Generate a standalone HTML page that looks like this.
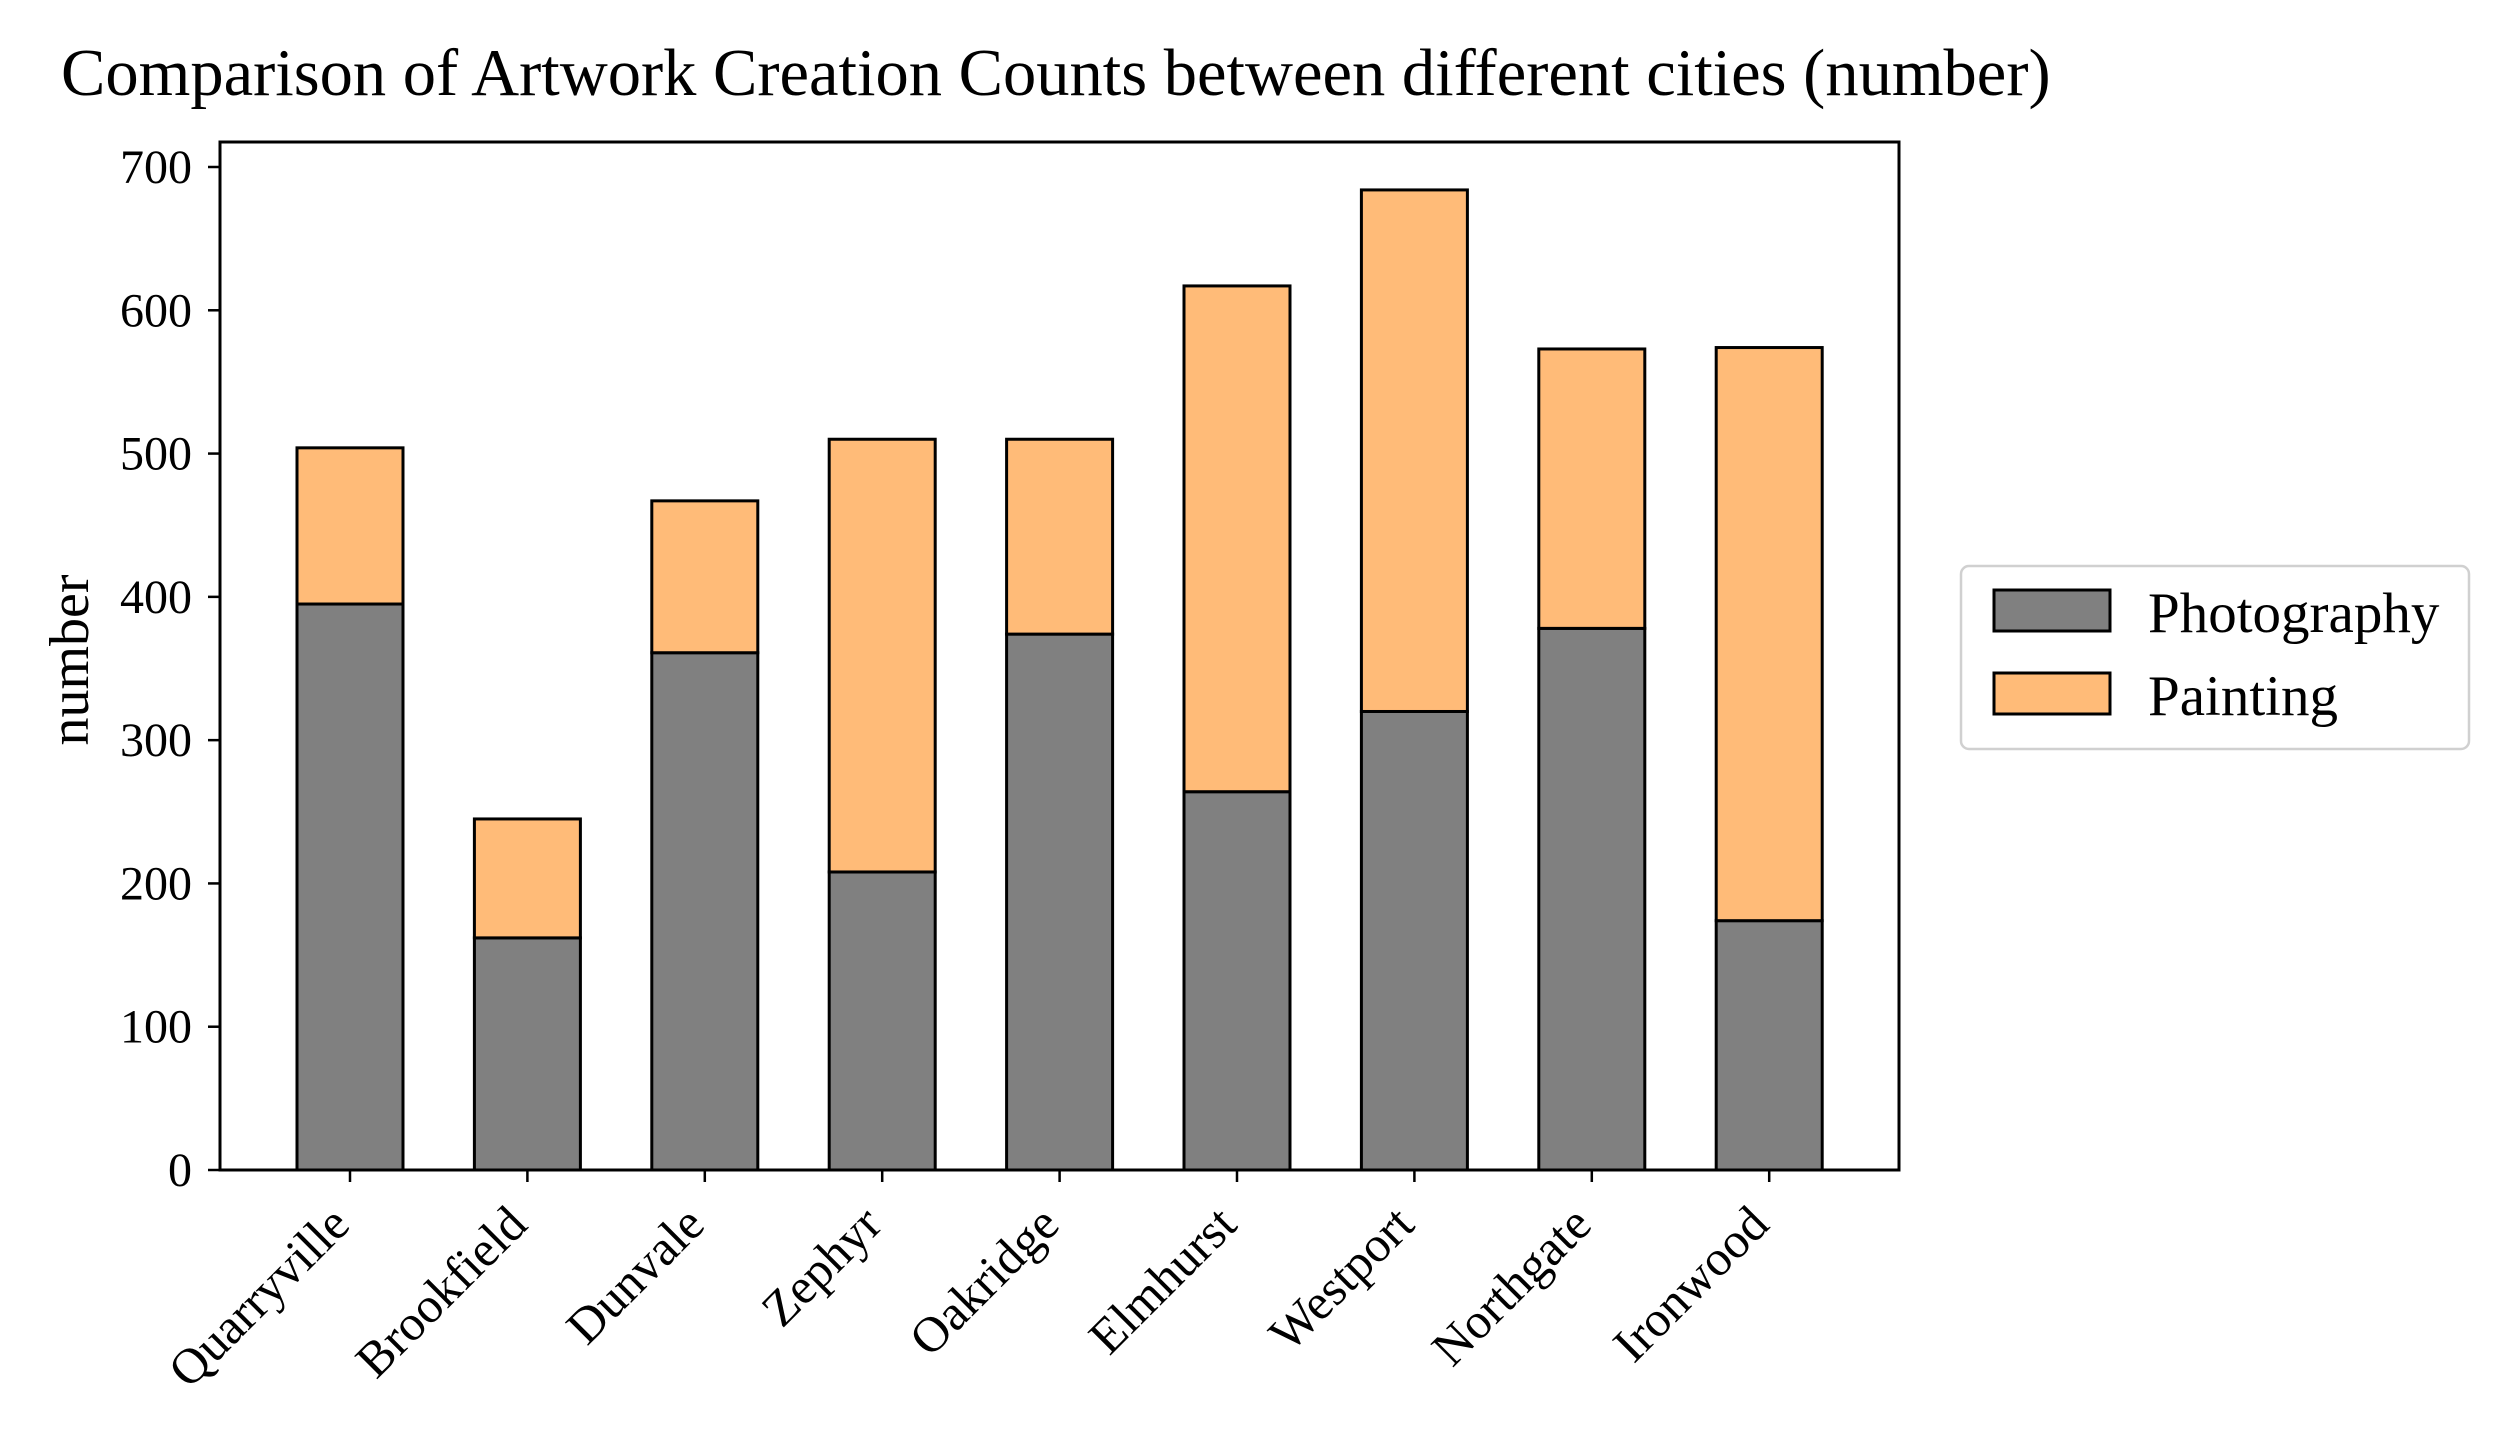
<!DOCTYPE html>
<html><head><meta charset="utf-8"><style>
html,body{margin:0;padding:0;background:#fff;}
svg{display:block;font-family:"Liberation Serif",serif;}
</style></head><body>
<svg id="chart" width="2520" height="1440" viewBox="0 0 2520 1440" xmlns="http://www.w3.org/2000/svg">
<text x="61" y="95" font-size="66.5" fill="#000">Comparison of Artwork Creation Counts between different cities (number)</text>
<text transform="translate(88,660) rotate(-90)" text-anchor="middle" font-size="56">number</text>
<g id="bars"></g>
<g id="axes"></g>
<g>
<rect x="1961" y="566" width="508" height="183" rx="8" fill="#fff" stroke="#d0d0d0" stroke-width="2.5"/>
<rect x="1994" y="590" width="116" height="41" fill="#808080" stroke="#000" stroke-width="3"/>
<text x="2148" y="632" font-size="57">Photography</text>
<rect x="1994" y="673" width="116" height="41" fill="#ffbb78" stroke="#000" stroke-width="3"/>
<text x="2148" y="715" font-size="57">Painting</text>
</g>
</svg>
<script>
const categories = ["Quarryville","Brookfield","Dunvale","Zephyr","Oakridge","Elmhurst","Westport","Northgate","Ironwood"];
const photography = [395,162,361,208,374,264,320,378,174];
const painting = [109,83,106,302,136,353,364,195,400];
const yTicks = [0,100,200,300,400,500,600,700];

const NS="http://www.w3.org/2000/svg";
const L=220,R=1899,T=142,B=1170;
const y0=1170, perUnit=(1170-167)/700;
function yScale(v){return y0-v*perUnit;}
function xScale(i){return 350+i*177.4;}
const bw=106;
function mk(tag,attrs,parent){const e=document.createElementNS(NS,tag);for(const k in attrs)e.setAttribute(k,attrs[k]);parent.appendChild(e);return e;}
const bars=document.getElementById('bars');
const axes=document.getElementById('axes');
categories.forEach((c,i)=>{
  const cx=xScale(i);
  const p=photography[i], q=painting[i];
  const r1=mk('rect',{x:cx-bw/2,y:yScale(p),width:bw,height:yScale(0)-yScale(p),fill:'#808080',stroke:'#000','stroke-width':3},bars);
  
  
  const r2=mk('rect',{x:cx-bw/2,y:yScale(p+q),width:bw,height:yScale(p)-yScale(p+q),fill:'#ffbb78',stroke:'#000','stroke-width':3},bars);
  
  
  const tk=mk('line',{x1:cx,x2:cx,y1:B,y2:B+12,stroke:'#000','stroke-width':2.5},axes);
  
  
  const t=mk('text',{transform:`translate(${cx+2},${B+57}) rotate(-45)`,'text-anchor':'end','font-size':50},axes);
  t.textContent=c;
  
  
});
yTicks.forEach(v=>{
  const y=yScale(v);
  const tk=mk('line',{x1:L-12,x2:L,y1:y,y2:y,stroke:'#000','stroke-width':2.5},axes);
  
  
  const t=mk('text',{x:L-28,y:y+16,'text-anchor':'end','font-size':48},axes);
  t.textContent=v;
  
  
});
const frame=mk('rect',{x:L,y:T,width:R-L,height:B-T,fill:'none',stroke:'#000','stroke-width':3},axes);


</script>
</body></html>
